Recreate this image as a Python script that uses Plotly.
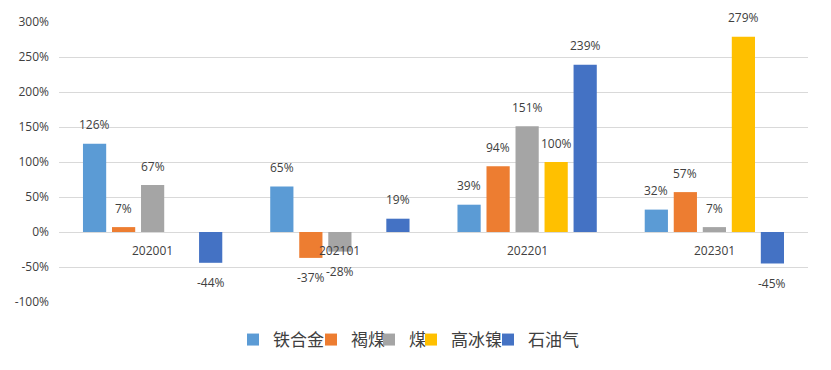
import plotly.graph_objects as go

categories = ["202001", "202101", "202201", "202301"]
series_names = ["铁合金", "褐煤", "煤", "高冰镍", "石油气"]
tiehejin = [126, 65, 39, 32]
hemei = [7, -37, 94, 57]
mei = [67, -28, 151, 7]
gaobingnie = [None, None, 100, 279]
shiyouqi = [-44, 19, 239, -45]
colors = ["#5B9BD5", "#ED7D31", "#A5A5A5", "#FFC000", "#4472C4"]
y_ticks = [-100, -50, 0, 50, 100, 150, 200, 250, 300]
y_tick_labels = [f"{t}%" for t in y_ticks]

all_series = [tiehejin, hemei, mei, gaobingnie, shiyouqi]

# page has an 8px body margin; figure sized so the window is filled
W, H = 823, 362
ml, mr, mt, mb = 51, 23, 14, 68
plot_w = W - ml - mr
plot_h = H - mt - mb
slot = plot_w / len(categories) * (1 - 0.225) / len(series_names)

# legend text start positions (screen px) from the reference
legend_text_x = [269, 347, 405, 447, 524]
legend_keys = ["legend", "legend2", "legend3", "legend4", "legend5"]

fig = go.Figure()
for name, vals, col, lk in zip(series_names, all_series, colors, legend_keys):
    fig.add_trace(go.Bar(x=categories, y=vals, name=name, marker_color=col,
                         marker_line_width=0, legend=lk))

annotations = []
for i, vals in enumerate(all_series):
    for j, v in enumerate(vals):
        if v is None:
            continue
        annotations.append(dict(
            x=j, y=v, xref="x", yref="y",
            text=f"{v}%", showarrow=False,
            xshift=(i - 2) * slot,
            yshift=19 if v >= 0 else -20,
            yanchor="middle",
            font=dict(size=12, color="#404040", family="Open Sans"),
        ))
for j, c in enumerate(categories):
    annotations.append(dict(
        x=j, y=0, xref="x", yref="y", text=c, showarrow=False,
        yshift=-18, yanchor="middle",
        font=dict(size=12, color="#404040", family="Open Sans"),
    ))

legend_layout = {}
leg_y = (302 - 340) / plot_h
for lk, tx in zip(legend_keys, legend_text_x):
    legend_layout[lk] = dict(
        orientation="h", x=(tx - 36 - 8 - ml) / plot_w, xanchor="left",
        y=leg_y, yanchor="middle", bgcolor="rgba(0,0,0,0)",
        font=dict(size=17, color="#404040", family="Noto Sans CJK SC"),
        itemwidth=30,
    )

fig.update_layout(
    width=W, height=H,
    margin=dict(l=ml, r=mr, t=mt, b=mb, autoexpand=False),
    paper_bgcolor="white", plot_bgcolor="white",
    barmode="group", bargap=0.225, bargroupgap=0.2,
    showlegend=True,
    annotations=annotations,
    xaxis=dict(type="category", range=[-0.5, 3.5], autorange=False,
               showticklabels=False, showgrid=False, zeroline=False,
               showline=False, ticks=""),
    yaxis=dict(range=[-100, 300], autorange=False, tickmode="array",
               tickvals=y_ticks, ticktext=y_tick_labels,
               showgrid=True, gridcolor="#D9D9D9", gridwidth=1,
               zeroline=True, zerolinecolor="#D9D9D9", zerolinewidth=1,
               showline=False, ticks="", ticklabelstandoff=9,
               tickfont=dict(size=12, color="#404040", family="Open Sans")),
    **legend_layout,
)

fig.write_html("out.html")
